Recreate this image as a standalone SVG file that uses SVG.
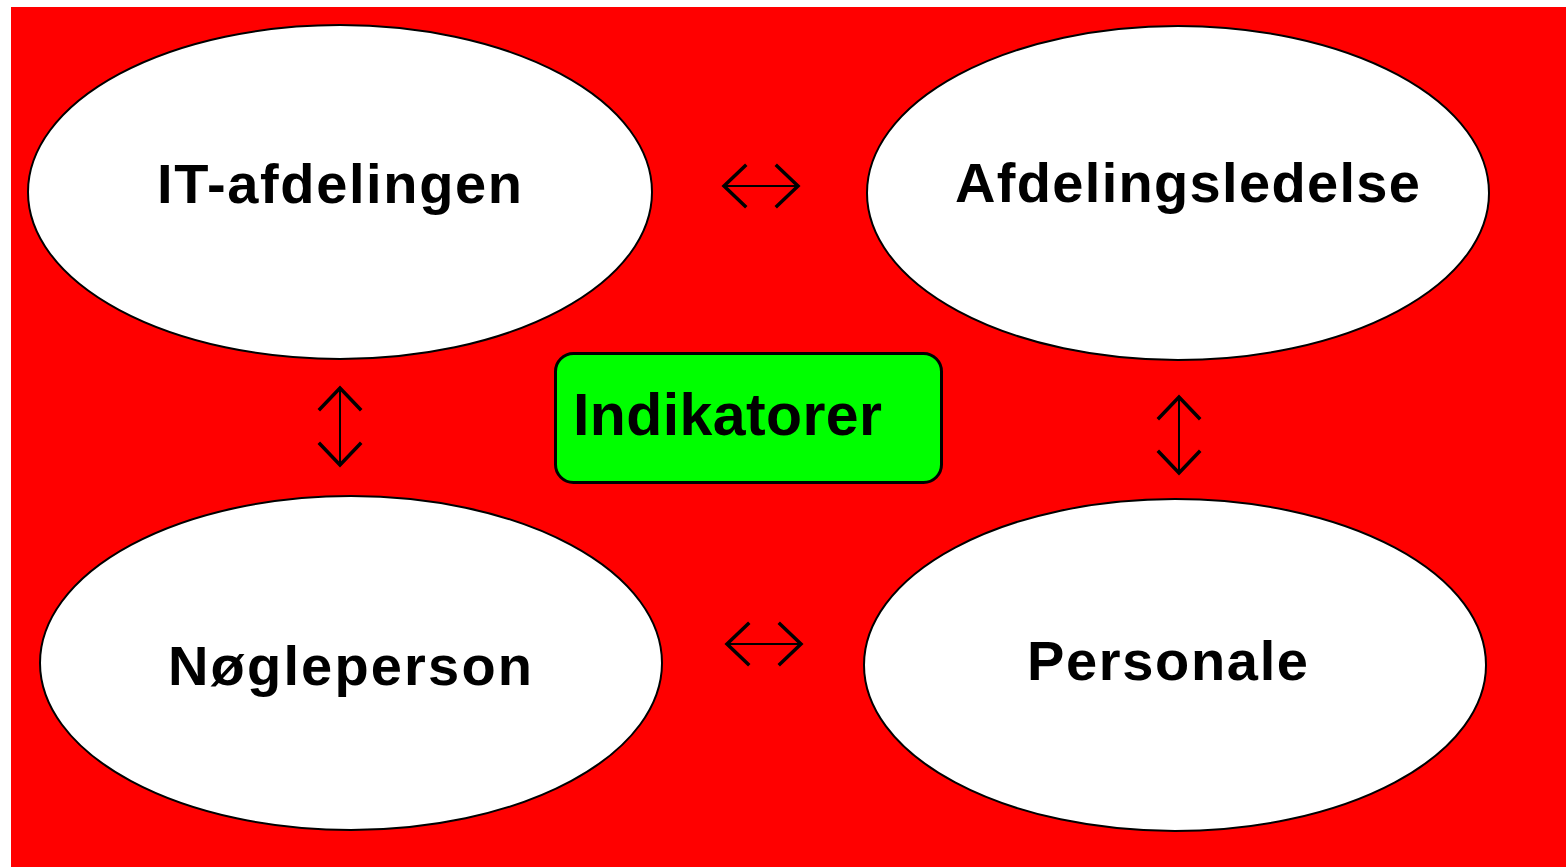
<svg xmlns="http://www.w3.org/2000/svg" width="1566" height="867" viewBox="0 0 1566 867">
<style>
.node ellipse{fill:#fff;stroke:#000;stroke-width:2}
.lbl{font-family:"Liberation Sans",Arial,sans-serif;font-weight:bold;font-size:56px;fill:#000;text-anchor:middle}
.conn line,.conn polyline{stroke:#000;fill:none}
.conn line{stroke-width:2}
.conn polyline{stroke-width:3.5;stroke-linecap:square}
</style>
<rect x="0" y="0" width="1566" height="867" fill="#fff"/>
<rect x="11" y="7" width="1555" height="860" fill="#ff0000"/>
<g id="it-afdelingen" class="node">
<ellipse cx="340" cy="192" rx="312" ry="167"/>
<text class="lbl" x="339.5" y="203" textLength="365" lengthAdjust="spacing">IT-afdelingen</text>
</g>
<g id="afdelingsledelse" class="node">
<ellipse cx="1178" cy="193" rx="311" ry="167"/>
<text class="lbl" x="1187.5" y="202" textLength="465" lengthAdjust="spacing">Afdelingsledelse</text>
</g>
<g id="noegleperson" class="node">
<ellipse cx="351" cy="663" rx="311" ry="167"/>
<text class="lbl" x="350" y="685" textLength="364" lengthAdjust="spacing">Nøgleperson</text>
</g>
<g id="personale" class="node">
<ellipse cx="1175" cy="665" rx="311" ry="166"/>
<text class="lbl" x="1167.5" y="680" textLength="281" lengthAdjust="spacing">Personale</text>
</g>
<g id="indikatorer" class="node">
<rect x="555.5" y="353.5" width="386" height="129" rx="18" ry="18" fill="#00ff00" stroke="#000" stroke-width="3"/>
<text class="lbl" x="727.5" y="435" textLength="309" lengthAdjust="spacing" style="font-size:59px">Indikatorer</text>
</g>
<g id="connectors" class="conn">
<line x1="723" y1="186" x2="799" y2="186"/>
<polyline points="745,166 724,186 745,206"/>
<polyline points="777,166 798,186 777,206"/>
<line x1="726" y1="644" x2="802" y2="644"/>
<polyline points="748,624 727,644 748,664"/>
<polyline points="780,624 801,644 780,664"/>
<line x1="340" y1="388" x2="340" y2="465"/>
<polyline points="320,409 340,388 360,409"/>
<polyline points="320,444 340,465 360,444"/>
<line x1="1179" y1="397" x2="1179" y2="473"/>
<polyline points="1159,418 1179,397 1199,418"/>
<polyline points="1159,452 1179,473 1199,452"/>
</g>
</svg>
